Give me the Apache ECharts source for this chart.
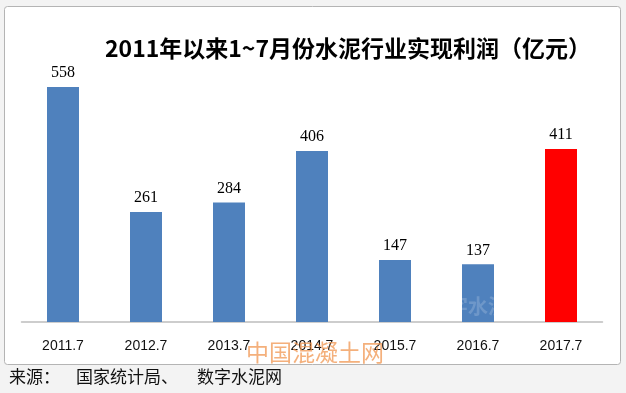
<!DOCTYPE html>
<html><head><meta charset="utf-8">
<script src="https://cdn.jsdelivr.net/npm/echarts@6/dist/echarts.min.js"></script>
<style>html,body{margin:0;padding:0;background:#f3f3f3;}#c{width:626px;height:393px;}</style>
</head><body><div id="c"></div>
<script>
const categories = ['2011.7','2012.7','2013.7','2014.7','2015.7','2016.7','2017.7'];
const profits = [558, 261, 284, 406, 147, 137, 411];
const barColors = ['#4F81BD','#4F81BD','#4F81BD','#4F81BD','#4F81BD','#4F81BD','#FF0000'];
const titleText = '2011年以来1~7月份水泥行业实现利润（亿元）';
const sourceParts = ['来源：', '国家统计局、', '数字水泥网'];
const watermark = '中国混凝土网';

const chart = echarts.init(document.getElementById('c'), null, {renderer:'canvas'});
const srcFont = '17px "Noto Sans CJK SC"';
chart.setOption({
  backgroundColor: '#f3f3f3',
  animation: false,
  graphic: [
    {type:'rect', z:-10, shape:{x:4.5, y:6.5, width:616, height:358, r:3}, style:{fill:'#ffffff', stroke:'#b4b4b4', lineWidth:1}},
    {type:'text', z:10, left:9, top:368, style:{text:sourceParts[0], font:srcFont, fill:'#111'}},
    {type:'text', z:10, left:76, top:368, style:{text:sourceParts[1], font:srcFont, fill:'#111'}},
    {type:'text', z:10, left:197, top:368, style:{text:sourceParts[2], font:srcFont, fill:'#111'}},
    {type:'text', z:10, left:246, top:341, style:{text:watermark, font:'23px "Noto Sans CJK SC"', fill:'rgba(240,150,80,0.75)'}},
    {type:'text', z:10, left:428, top:296, style:{text:'数字水泥网', font:'bold 20px "Noto Sans CJK SC"', fill:'rgba(255,255,255,0.18)'}}
  ],
  title: {
    text: titleText,
    left: 343, top: 32, textAlign: 'center',
    textStyle: {fontFamily:'"Noto Sans CJK SC"', fontWeight:'bold', fontSize:23, color:'#000'}
  },
  grid: {left:21.5, right:23.5, top:69.4, height:252.6},
  xAxis: {
    type:'category', data: categories,
    axisLine:{lineStyle:{color:'#bdbdbd', width:1.5}},
    axisTick:{show:false},
    axisLabel:{fontFamily:'"Liberation Sans"', fontSize:14, color:'#111', margin:17}
  },
  yAxis: {type:'value', min:0, max:600, show:false, splitLine:{show:false}},
  series: [{
    type:'bar', barWidth:32,
    data: profits.map((v,i)=>({value:v, itemStyle:{color:barColors[i]}})),
    label:{show:true, position:'top', distance:6, fontFamily:'"Liberation Serif"', fontSize:16, color:'#000'}
  }]
});
</script></body></html>
